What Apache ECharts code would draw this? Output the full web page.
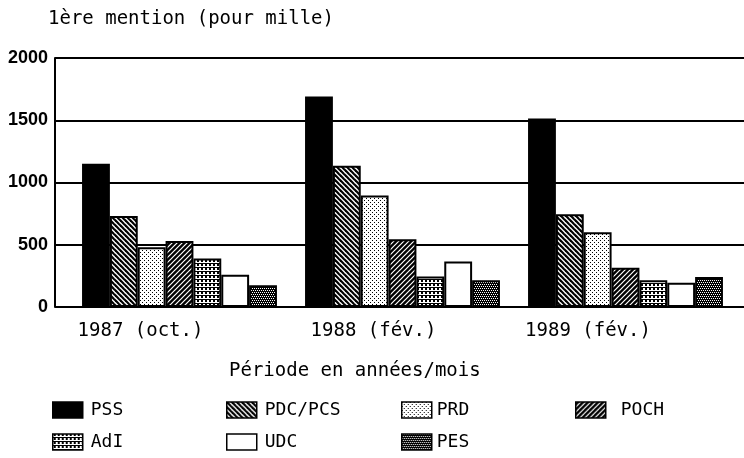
<!DOCTYPE html>
<html>
<head>
<meta charset="utf-8">
<script src="https://cdn.jsdelivr.net/npm/echarts@6/dist/echarts.min.js"></script>
<style>
html,body{margin:0;padding:0;background:#fff;}
#chart{width:744px;height:458px;}
</style>
</head>
<body>
<div id="chart"></div>
<script>
// ---- data ----
var categories = ['1987 (oct.)', '1988 (fév.)', '1989 (fév.)'];
var seriesNames = ['PSS', 'PDC/PCS', 'PRD', 'POCH', 'AdI', 'UDC', 'PES'];
var PSS  = [1150, 1690, 1515];
var PDC  = [730, 1135, 745];
var PRD  = [480, 895, 600];
var POCH = [530, 545, 315];
var AdI  = [390, 245, 215];
var UDC  = [260, 365, 195];
var PES  = [175, 215, 240];
var yTicks = [0, 500, 1000, 1500, 2000];
var titleText = '1ère mention (pour mille)';
var xTitle = 'Période en années/mois';

var values = [PSS, PDC, PRD, POCH, AdI, UDC, PES];

// ---- patterns ----
function pat(size, draw) {
  var c = document.createElement('canvas');
  c.width = size; c.height = size;
  var ctx = c.getContext('2d');
  draw(ctx, size);
  return { image: c, repeat: 'repeat' };
}
function diag(ctx, s, bg, fg, w, dir) {
  ctx.fillStyle = bg; ctx.fillRect(0, 0, s, s);
  ctx.strokeStyle = fg; ctx.lineWidth = w;
  for (var k = -s; k <= s; k += s) {
    ctx.beginPath();
    if (dir === 'back') { ctx.moveTo(k - 1, -1); ctx.lineTo(k + s + 1, s + 1); }
    else { ctx.moveTo(k - 1, s + 1); ctx.lineTo(k + s + 1, -1); }
    ctx.stroke();
  }
}
var fills = [
  '#000',
  pat(5, function (ctx, s) { diag(ctx, s, '#fff', '#000', 2.2, 'back'); }),
  pat(4, function (ctx, s) {
    ctx.fillStyle = '#fff'; ctx.fillRect(0, 0, s, s);
    ctx.fillStyle = '#000'; ctx.fillRect(0, 0, 1, 1); ctx.fillRect(2, 2, 1, 1);
  }),
  pat(5, function (ctx, s) { diag(ctx, s, '#000', '#fff', 1.2, 'fwd'); }),
  pat(4, function (ctx, s) {
    ctx.fillStyle = '#fff'; ctx.fillRect(0, 0, s, s);
    ctx.fillStyle = '#000'; ctx.fillRect(1, 0, 2, 2); ctx.fillRect(0, 3, 4, 1);
  }),
  '#fff',
  pat(4, function (ctx, s) {
    ctx.fillStyle = '#000'; ctx.fillRect(0, 0, s, s);
    ctx.fillStyle = '#fff';
    ctx.fillRect(0, 0, 1, 1); ctx.fillRect(2, 0, 1, 1);
    ctx.fillRect(1, 2, 1, 1); ctx.fillRect(3, 2, 1, 1);
  })
];

var mono = 'DejaVu Sans Mono';
var labelShift = [78, 58, 75];

var series = seriesNames.map(function (n, i) {
  return {
    name: n, type: 'bar', xAxisIndex: 1, yAxisIndex: 1,
    barGap: '0%', barCategoryGap: '12.6%',
    data: values[i],
    itemStyle: { color: fills[i], borderColor: '#000', borderWidth: 2 },
    emphasis: { disabled: true },
    animation: false
  };
});

function legendCol(names, left, textPad) {
  return {
    data: names, orient: 'vertical', left: left, top: 401, padding: 0,
    itemWidth: 30, itemHeight: 16, itemGap: 14, icon: 'rect',
    selectedMode: false,
    itemStyle: { borderColor: '#000', borderWidth: 1.5 },
    textStyle: { fontFamily: mono, fontSize: 18, color: '#000', lineHeight: 16,
                 padding: [0, 0, 0, textPad] }
  };
}

var chart = echarts.init(document.getElementById('chart'), null, { renderer: 'canvas' });
chart.setOption({
  animation: false,
  backgroundColor: '#fff',
  title: [
    { text: titleText, left: 48, top: 10, padding: 0,
      textStyle: { fontFamily: mono, fontSize: 19, fontWeight: 'normal', color: '#000' } },
    { text: xTitle, left: 229, top: 362, padding: 0,
      textStyle: { fontFamily: mono, fontSize: 19, fontWeight: 'normal', color: '#000' } }
  ],
  legend: [
    legendCol(['PSS', 'AdI'], 52, 3),
    legendCol(['PDC/PCS', 'UDC'], 226, 3),
    legendCol(['PRD', 'PES'], 401, 0),
    legendCol(['POCH'], 575, 10)
  ],
  grid: [
    { left: 55, right: 0, top: 58, bottom: 151 },
    { left: 68, right: 7, top: 58, bottom: 151 }
  ],
  xAxis: [
    { gridIndex: 0, type: 'value', min: 0, max: 1, show: false },
    { gridIndex: 1, type: 'category',
      data: categories.map(function (c, i) {
        return { value: c, textStyle: { padding: [0, labelShift[i], 0, 0] } };
      }),
      axisLine: { show: false }, axisTick: { show: false },
      axisLabel: { margin: 15, fontFamily: mono, fontSize: 19, color: '#000' } }
  ],
  yAxis: [
    { gridIndex: 0, type: 'value', min: yTicks[0], max: yTicks[yTicks.length - 1],
      interval: yTicks[1] - yTicks[0],
      axisLine: { show: true, lineStyle: { color: '#000', width: 2 } },
      axisTick: { show: false },
      splitLine: { show: true, lineStyle: { color: '#000', width: 2 } },
      axisLabel: { margin: 7, fontFamily: 'Liberation Sans', fontWeight: 'bold',
                   fontSize: 18, color: '#000',
                   formatter: function (v) { return String(v); } } },
    { gridIndex: 1, type: 'value', min: yTicks[0], max: yTicks[yTicks.length - 1],
      show: false, splitLine: { show: false } }
  ],
  series: series
});
</script>
</body>
</html>
